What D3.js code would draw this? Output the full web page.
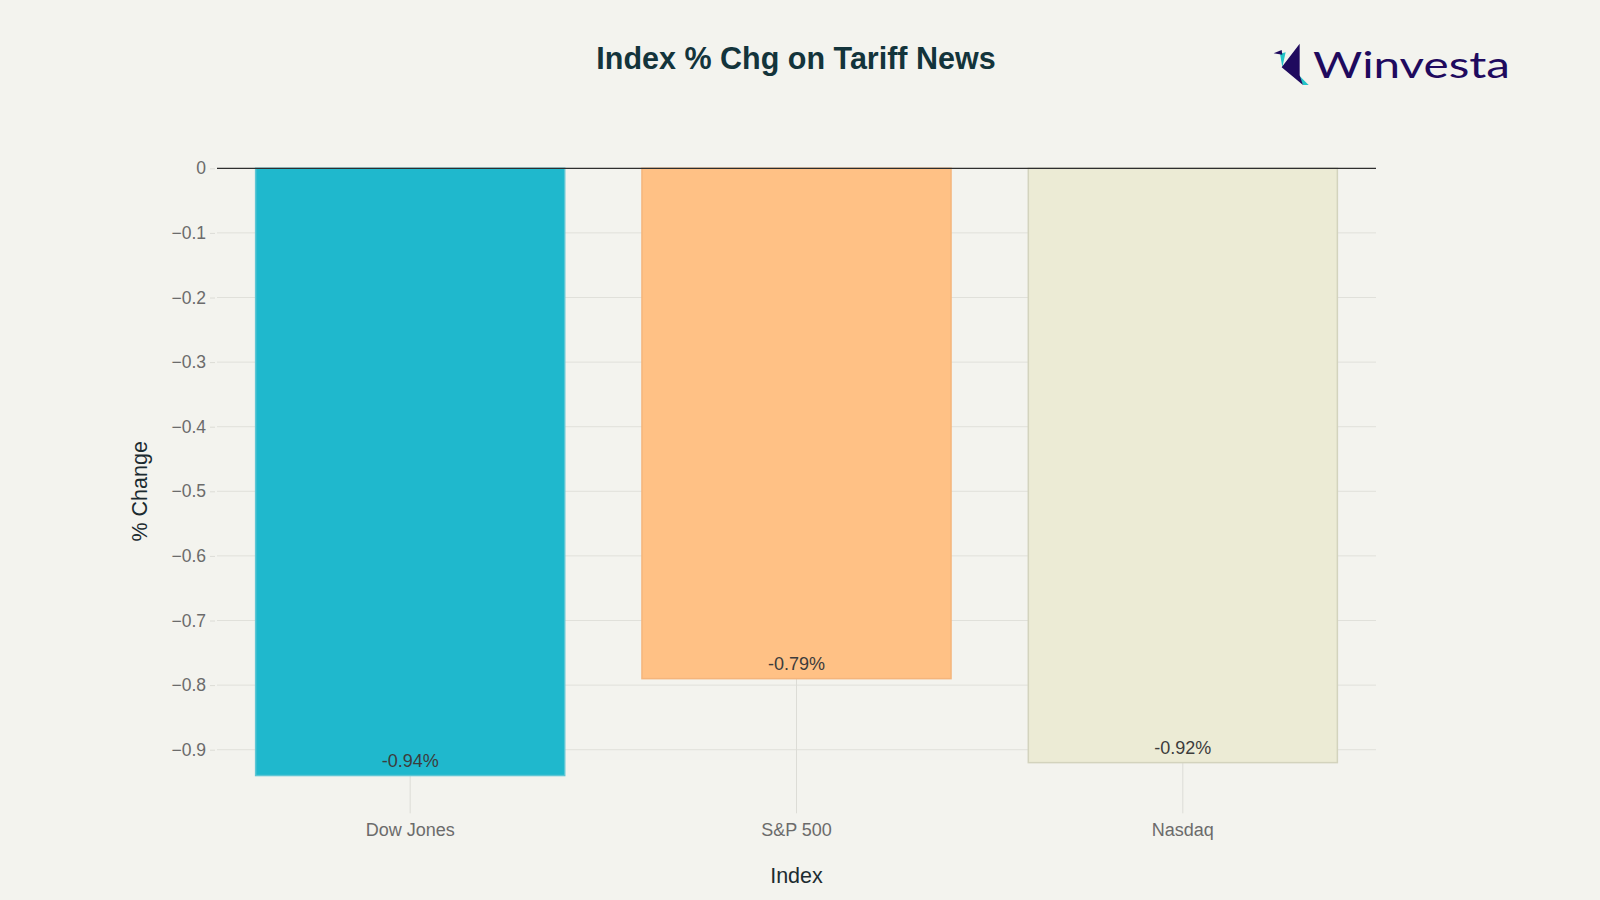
<!DOCTYPE html>
<html>
<head>
<meta charset="utf-8">
<script src="https://cdn.jsdelivr.net/npm/d3@7"></script>
<style>
  html, body { margin: 0; padding: 0; background: #f3f3ee; }
  svg { display: block; }
</style>
</head>
<body>
<svg id="chart" width="1600" height="900"></svg>
<script>
// ---- data ----
const categories = ["Dow Jones", "S&P 500", "Nasdaq"];
const values = [-0.94, -0.79, -0.92];
const valueLabels = ["-0.94%", "-0.79%", "-0.92%"];
const yTickValues = [0, -0.1, -0.2, -0.3, -0.4, -0.5, -0.6, -0.7, -0.8, -0.9];
const yTickLabels = ["0", "\u22120.1", "\u22120.2", "\u22120.3", "\u22120.4", "\u22120.5", "\u22120.6", "\u22120.7", "\u22120.8", "\u22120.9"];
const chartTitle = "Index % Chg on Tariff News";
const xTitle = "Index";
const yTitle = "% Change";

(function () {
// ---- style ----
const fills = ["#1FB8CD", "#FFC185", "#ECEBD5"];
const strokes = ["#5ec6d4", "#f4b57c", "#d3d3bd"];
const font = "'Liberation Sans', Arial, Helvetica, sans-serif";

const svg = d3.select("#chart");
svg.append("rect").attr("width", 1600).attr("height", 900).attr("fill", "#f3f3ee");

const mLeft = 217, mRight = 1376, mTop = 168.3, mBottom = 814.3;

const x = d3.scaleBand().domain(categories).range([mLeft, mRight]).paddingInner(0.2).paddingOuter(0.1);
const y = d3.scaleLinear().domain([-1, 0]).range([mBottom, mTop]);

// horizontal gridlines
svg.append("g").selectAll("line").data(yTickValues.filter(v => v !== 0)).join("line")
  .attr("x1", mLeft).attr("x2", mRight)
  .attr("y1", d => y(d)).attr("y2", d => y(d))
  .attr("stroke", "#e0e0da").attr("stroke-width", 1);

// vertical gridlines at category centers
svg.append("g").selectAll("line").data(categories).join("line")
  .attr("x1", d => x(d) + x.bandwidth() / 2).attr("x2", d => x(d) + x.bandwidth() / 2)
  .attr("y1", mTop).attr("y2", mBottom - 1)
  .attr("stroke", "#dcdcd6").attr("stroke-width", 1);

// y axis (labels + small ticks)
const yAxis = d3.axisLeft(y).tickValues(yTickValues).tickSize(5).tickPadding(4)
  .tickFormat((d, i) => yTickLabels[i]);
const gy = svg.append("g").attr("transform", `translate(${mLeft - 2},0)`).call(yAxis);
gy.select(".domain").remove();
gy.selectAll(".tick line").attr("stroke", "#dcdcd6");
gy.selectAll(".tick text").attr("font-family", font).attr("font-size", 17.5)
  .attr("fill", "#6b6b6b");

// bars
svg.append("g").selectAll("rect").data(values).join("rect")
  .attr("x", (d, i) => x(categories[i]))
  .attr("width", x.bandwidth())
  .attr("y", d => y(Math.max(0, d)))
  .attr("height", d => Math.abs(y(d) - y(0)))
  .attr("fill", (d, i) => fills[i])
  .attr("stroke", (d, i) => strokes[i])
  .attr("stroke-width", 1.5);

// zero line
svg.append("line").attr("x1", mLeft).attr("x2", mRight)
  .attr("y1", y(0)).attr("y2", y(0))
  .attr("stroke", "#2e2e2e").attr("stroke-width", 1.2);

// bar value labels
svg.append("g").selectAll("text").data(values).join("text")
  .attr("x", (d, i) => x(categories[i]) + x.bandwidth() / 2)
  .attr("y", d => y(d) - 8.5)
  .attr("text-anchor", "middle")
  .attr("font-family", font).attr("font-size", 18)
  .attr("fill", "#3c3c3c")
  .text((d, i) => valueLabels[i]);

// x axis labels
const xAxis = d3.axisBottom(x).tickSize(0).tickPadding(0);
const gx = svg.append("g").attr("transform", `translate(0,${mBottom})`).call(xAxis);
gx.select(".domain").remove();
gx.selectAll(".tick text").attr("font-family", font).attr("font-size", 18)
  .attr("fill", "#6b6b6b").attr("dy", null).attr("y", 22);

// axis titles
svg.append("text").attr("x", (mLeft + mRight) / 2).attr("y", 882.5)
  .attr("text-anchor", "middle").attr("font-family", font).attr("font-size", 21.5)
  .attr("fill", "#1c2b30").text(xTitle);
svg.append("text")
  .attr("transform", `translate(147,${(mTop + mBottom) / 2}) rotate(-90)`)
  .attr("text-anchor", "middle").attr("font-family", font).attr("font-size", 21.5)
  .attr("fill", "#1c2b30").text(yTitle);

// chart title
svg.append("text").attr("x", 796).attr("y", 69)
  .attr("text-anchor", "middle").attr("font-family", font).attr("font-weight", 700)
  .attr("font-size", 30.5).attr("fill", "#13343B").text(chartTitle);

// logo
const logo = svg.append("g");
const dark = "#1f0a5e", cyan = "#22c4c8";
const lx = 1265, ly = 38, s = 1 / 3;
const P = pts => pts.map(p => [lx + p[0] * s, ly + p[1] * s].join(",")).join(" ");
logo.append("polygon").attr("points", P([[45, 47], [62, 43], [52, 88]])).attr("fill", cyan);
logo.append("polygon").attr("points", P([[100, 110], [131, 141], [114, 141]])).attr("fill", cyan);
logo.append("polygon").attr("points", P([[104, 17], [104, 112], [114, 141], [50, 88]])).attr("fill", dark);
logo.append("polygon").attr("points", P([[26, 46], [50, 36], [52, 50]])).attr("fill", dark);
logo.append("text").attr("x", 1313).attr("y", 78.3)
  .attr("font-family", "Lato, 'Noto Sans', sans-serif").attr("font-weight", 400)
  .attr("font-size", 36).attr("fill", dark)
  .attr("textLength", 197).attr("lengthAdjust", "spacingAndGlyphs")
  .text("Winvesta");
})();
</script>
</body>
</html>
